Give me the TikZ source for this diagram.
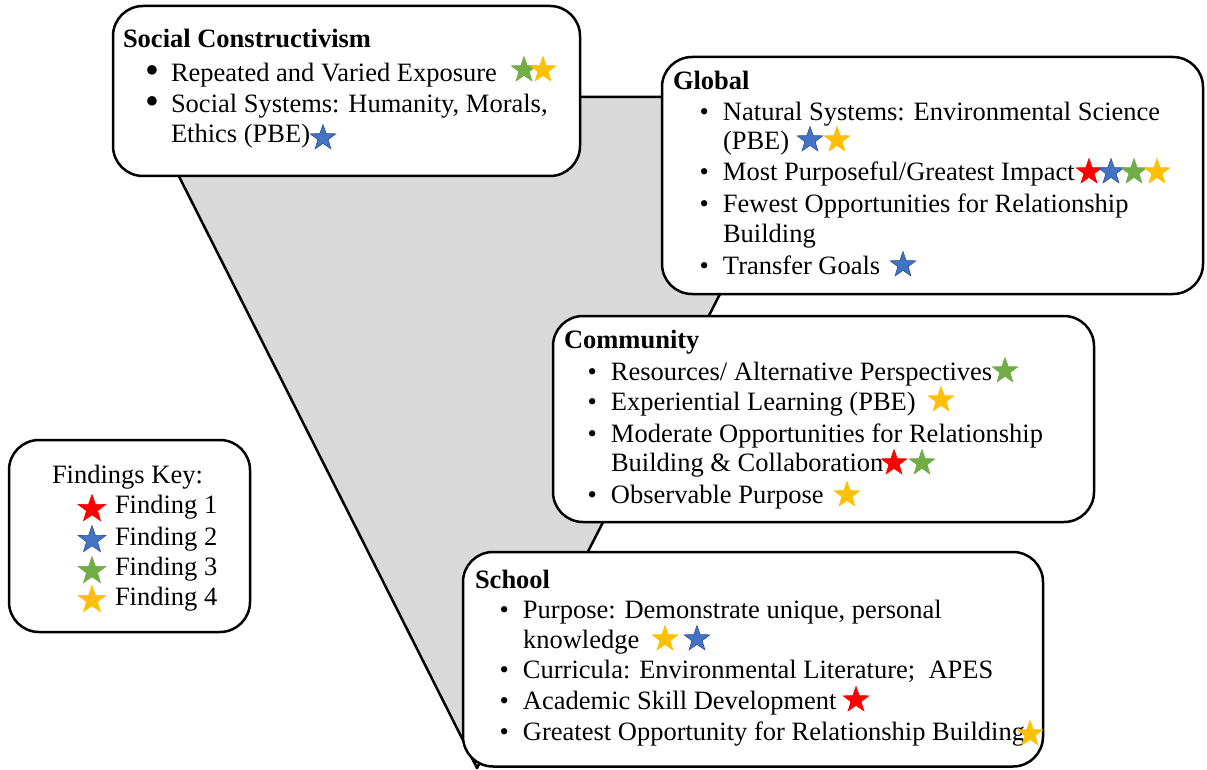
\documentclass[tikz,border=0pt]{standalone}
\usepackage{fontspec}
\usepackage{graphicx}
\setmainfont{Liberation Serif}
\usetikzlibrary{shapes.geometric}

\definecolor{funnelgray}{HTML}{D9D9D9}
\definecolor{fred}{HTML}{FF0000}
\definecolor{fblue}{HTML}{4472C4}
\definecolor{fblueedge}{HTML}{2F528F}
\definecolor{fgreen}{HTML}{70AD47}
\definecolor{fgold}{HTML}{FFC000}

% bullet items: bullet hangs to the left of the text start
\newcommand\itm[1]{\llap{\textbullet\hspace{14pt}}#1}
\newcommand\bigitm[1]{\llap{\raisebox{-1.5pt}{\scalebox{1.5}{\textbullet}}\hspace{12pt}}#1}

\tikzset{
  box/.style={draw=black, line width=2.5pt, fill=white, rounded corners=30pt},
  txt/.style={anchor=base west, inner sep=0pt, outer sep=0pt},
  fstar/.style={star, star points=5, star point ratio=2.5, minimum size=27pt,
                inner sep=0pt, line width=0.6pt, draw=#1, fill=#1},
  rstar/.style={fstar=fred},
  bstar/.style={fstar=fblue, draw=fblueedge},
  gstar/.style={fstar=fgreen},
  ystar/.style={fstar=fgold},
  keystar/.style={minimum size=29pt},
}

\begin{document}
\begin{tikzpicture}[x=1pt, y=-1pt, font=\fontsize{26.5pt}{31pt}\selectfont]
\useasboundingbox (0,0) rectangle (1207,770);

% funnel behind the boxes
\draw[line width=2.5pt, fill=funnelgray, line join=round]
  (139,97) -- (821,97) -- (477,768) -- cycle;

% ---------- Social Constructivism ----------
\draw[box] (113,6) rectangle (580,176);
\node[txt] (sc-t) at (123,48) {\bfseries Social Constructivism};
\node[txt] (sc-1) at (171,82) {\bigitm{Repeated and Varied Exposure}};
\node[txt] (sc-2) at (171,113) {\bigitm{Social Systems: Humanity, Morals,}};
\node[txt] (sc-3) at (171,143) {Ethics (PBE)};
\node[gstar] (sc-s1) at (524,70) {};
\node[ystar] (sc-s2) at (543,70) {};
\node[bstar] (sc-s3) at (323,138) {};

% ---------- Global ----------
\draw[box] (662,57) rectangle (1203,294);
\node[txt] (gl-t) at (673,90) {\bfseries Global};
\node[txt] (gl-1) at (723,121) {\itm{Natural Systems: Environmental Science}};
\node[txt] (gl-1b) at (723,150) {(PBE)};
\node[txt] (gl-2) at (723,181) {\itm{Most Purposeful/Greatest Impact}};
\node[txt] (gl-3) at (723,213) {\itm{Fewest Opportunities for Relationship}};
\node[txt] (gl-3b) at (723,243) {Building};
\node[txt] (gl-4) at (723,274) {\itm{Transfer Goals}};
\node[bstar] (gl-s1) at (810,140) {};
\node[ystar] (gl-s2) at (837,140) {};
\node[rstar] (gl-s3) at (1089,172) {};
\node[bstar] (gl-s4) at (1111,172) {};
\node[gstar] (gl-s5) at (1134,172) {};
\node[ystar] (gl-s6) at (1157,172) {};
\node[bstar] (gl-s7) at (903,265) {};

% ---------- Community ----------
\draw[box] (553,316) rectangle (1094,522);
\node[txt] (cm-t) at (564,348) {\bfseries Community};
\node[txt] (cm-1) at (611,380) {\itm{Resources/ Alternative Perspectives}};
\node[txt] (cm-2) at (611,410) {\itm{Experiential Learning (PBE)}};
\node[txt] (cm-3) at (611,442) {\itm{Moderate Opportunities for Relationship}};
\node[txt] (cm-3b) at (611,471) {Building \& Collaboration};
\node[txt] (cm-4) at (611,503) {\itm{Observable Purpose}};
\node[gstar] (cm-s1) at (1005,371) {};
\node[ystar] (cm-s2) at (941,400) {};
\node[rstar] (cm-s3) at (894,463) {};
\node[gstar] (cm-s4) at (922,463) {};
\node[ystar] (cm-s5) at (847,495) {};

% ---------- School ----------
\draw[box] (463,552) rectangle (1043,766.5);
\node[txt] (sh-t) at (475,588) {\bfseries School};
\node[txt] (sh-1) at (523,618) {\itm{Purpose: Demonstrate unique, personal}};
\node[txt] (sh-1b) at (523,648) {knowledge};
\node[txt] (sh-2) at (523,678) {\itm{Curricula: Environmental Literature;\ \ APES}};
\node[txt] (sh-3) at (523,709) {\itm{Academic Skill Development}};
\node[txt] (sh-4) at (523,740) {\itm{Greatest Opportunity for Relationship Building}};
\node[ystar] (sh-s1) at (665,639) {};
\node[bstar] (sh-s2) at (697,639) {};
\node[rstar] (sh-s3) at (856,700) {};
\node[ystar] (sh-s4) at (1030,734) {};

% ---------- Findings key ----------
\draw[box] (9,440) rectangle (250,632);
\node[txt] (key-t) at (52,483) {Findings Key:};
\node[txt] (key-1) at (115,513) {Finding 1};
\node[txt] (key-2) at (115,545) {Finding 2};
\node[txt] (key-3) at (115,575) {Finding 3};
\node[txt] (key-4) at (115,605) {Finding 4};
\node[rstar, keystar] (key-s1) at (92,509) {};
\node[bstar, keystar] (key-s2) at (92,540) {};
\node[gstar, keystar] (key-s3) at (92,571) {};
\node[ystar, keystar] (key-s4) at (92,600) {};
\end{tikzpicture}
\end{document}
